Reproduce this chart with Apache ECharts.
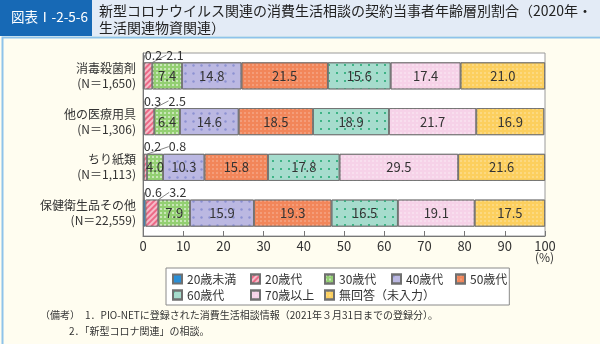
<!DOCTYPE html>
<html><head><meta charset="utf-8">
<script src="https://cdn.jsdelivr.net/npm/echarts@6/dist/echarts.min.js"></script>
<style>html,body{margin:0;padding:0;background:#fffdf0}#c{width:600px;height:344px}</style>
</head><body><div id="c"></div>
<script>
// ---- data ----
const categories = ['消毒殺菌剤', '他の医療用具', 'ちり紙類', '保健衛生品その他'];
const counts = ['1,650', '1,306', '1,113', '22,559'];
const seriesNames = ['20歳未満', '20歳代', '30歳代', '40歳代', '50歳代', '60歳代', '70歳以上', '無回答（未入力）'];
const under20 = [0.2, 0.3, 0.2, 0.6];
const age20s = [2.1, 2.5, 0.8, 3.2];
const age30s = [7.4, 6.4, 4.0, 7.9];
const age40s = [14.8, 14.6, 10.3, 15.9];
const age50s = [21.5, 18.5, 15.8, 19.3];
const age60s = [15.6, 18.9, 17.8, 16.5];
const age70plus = [17.4, 21.7, 29.5, 19.1];
const noAnswer = [21.0, 16.9, 21.6, 17.5];
const xMin = 0, xMax = 100, xStep = 10;

// ---- styling (kept separate from data) ----
const smallLabelShift = { 0: [10, 9, 9, 9], 1: [27, 28, 32, 26] };
const FONT = '"Noto Sans CJK JP", "Noto Sans", sans-serif';
const styles = [
  { color: '#2b8fd6', decal: null },
  { color: '#ec6a87', decal: { symbol: 'rect', symbolSize: 1, rotation: -Math.PI / 4, dashArrayX: [[1, 0]], dashArrayY: [2, 2], color: 'rgba(255,255,255,0.55)' } },
  { color: '#93cf72', decal: { symbol: 'rect', symbolSize: 1, dashArrayX: [[2, 2]], dashArrayY: [2, 2], color: 'rgba(255,255,255,0.5)' } },
  { color: '#bbb8e2', decal: { symbol: 'circle', symbolSize: 0.8, dashArrayX: [[3, 5]], dashArrayY: [3, 5], color: 'rgba(110,120,200,0.6)' } },
  { color: '#f2865a', decal: { symbol: 'circle', symbolSize: 0.8, dashArrayX: [[2, 2]], dashArrayY: [2, 2], color: 'rgba(255,255,255,0.45)' } },
  { color: '#a6dccd', decal: { symbol: 'rect', symbolSize: 1, dashArrayX: [[2, 6]], dashArrayY: [2, 6], color: '#3fb386' } },
  { color: '#f6d2e8', decal: { symbol: 'circle', symbolSize: 0.8, dashArrayX: [[2, 2]], dashArrayY: [2, 2], color: 'rgba(255,255,255,0.6)' } },
  { color: '#fccf5e', decal: { symbol: 'circle', symbolSize: 0.8, dashArrayX: [[2, 2]], dashArrayY: [2, 2], color: 'rgba(255,255,255,0.5)' } }
];
const values = [under20, age20s, age30s, age40s, age50s, age60s, age70plus, noAnswer];
const legendTextWidths = [63, 59, 52, 49, 37];

const series = values.map((arr, si) => {
  const small = si < 2;
  const itemStyle = { color: styles[si].color, borderColor: '#707070', borderWidth: 0.8 };
  if (styles[si].decal) itemStyle.decal = styles[si].decal;
  const s = {
    name: seriesNames[si],
    type: 'bar',
    stack: 'total',
    barWidth: 27,
    data: arr,
    itemStyle: itemStyle,
    label: small ? {
      show: true, position: 'top', distance: 1, color: '#333', fontSize: 12.5, fontFamily: FONT,
      formatter: p => p.value.toFixed(1)
    } : {
      show: true, position: 'inside', color: '#333', fontSize: 13, fontFamily: FONT,
      formatter: p => p.value.toFixed(1)
    }
  };
  if (small) {
    s.labelLayout = p => ({ dx: smallLabelShift[si][p.dataIndex] });
    s.labelLine = { show: true, length2: 0, lineStyle: { color: '#666', width: 0.8 } };
  }
  return s;
});

const chart = echarts.init(document.getElementById('c'), null, { renderer: 'canvas' });
chart.setOption({
  backgroundColor: '#fffdf0',
  animation: false,
  textStyle: { fontFamily: FONT },
  grid: { left: 143, right: 55, top: 53, bottom: 108, show: true, backgroundColor: '#ffffff', borderColor: '#9a9a9a', borderWidth: 1 },
  xAxis: {
    type: 'value', min: xMin, max: xMax, interval: xStep,
    axisLine: { show: true, lineStyle: { color: '#777' } },
    axisTick: { show: true, inside: true, length: 5, lineStyle: { color: '#777' } },
    splitLine: { show: false },
    axisLabel: { color: '#333', fontSize: 13, margin: 4, fontFamily: FONT }
  },
  yAxis: {
    type: 'category', data: categories, inverse: true,
    axisLine: { show: true, lineStyle: { color: '#777' } },
    axisTick: { show: false },
    axisLabel: {
      color: '#333', fontSize: 12, lineHeight: 15, margin: 7, align: 'right', fontFamily: FONT,
      formatter: (v, i) => v + '\n(N＝' + counts[i] + ')'
    }
  },
  legend: {
    left: 166, top: 268, width: 400,
    padding: [3, 2, 2, 6],
    icon: 'rect',
    itemWidth: 9, itemHeight: 9, itemGap: 0,
    backgroundColor: '#ffffff', borderColor: '#8a8a8a', borderWidth: 1,
    textStyle: { color: '#333', fontSize: 12, lineHeight: 16, fontFamily: FONT },
    data: seriesNames.map((n, i) => ({ name: n, textStyle: { width: legendTextWidths[i % 5] } }))
  },
  graphic: [
    { type: 'rect', left: 0, top: 0, shape: { width: 600, height: 36 }, style: { fill: '#e3ebf6' }, silent: true },
    { type: 'rect', left: 0, top: 0, shape: { width: 92, height: 36 }, style: { fill: '#1769b5' }, silent: true },
    { type: 'text', left: 11, top: 10, style: { text: '図表Ⅰ-2-5-6', fill: '#fff', font: '13.5px ' + FONT } },
    { type: 'text', left: 99, top: 2, style: { text: '新型コロナウイルス関連の消費生活相談の契約当事者年齢層別割合（2020年・\n生活関連物資関連）', fill: '#222', font: '14px ' + FONT, lineHeight: 17 } },
    { type: 'rect', left: 0, top: 35, shape: { width: 600, height: 309 }, style: { fill: 'none', stroke: '#8ec3ea', lineWidth: 2 }, silent: true },
    { type: 'text', left: 535, top: 251, style: { text: '(%)', fill: '#333', font: '12px ' + FONT } },
    { type: 'text', left: 40, top: 310, style: { text: '（備考）　1．PIO-NETに登録された消費生活相談情報（2021年３月31日までの登録分）。', fill: '#333', font: '10px ' + FONT } },
    { type: 'text', left: 69, top: 326, style: { text: '2．「新型コロナ関連」の相談。', fill: '#333', font: '10px ' + FONT } }
  ],
  series: series
});
</script></body></html>
